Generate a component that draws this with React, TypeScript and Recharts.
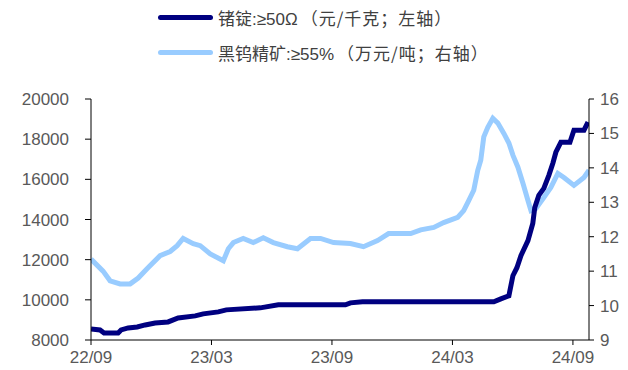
import React from 'react';
import { LineChart, Line, XAxis, YAxis } from 'recharts';

// months since 2022/09
const geMonths = [0, 0.45, 0.65, 1.35, 1.5, 1.85, 2.3, 2.7, 3.19, 3.84, 4.34, 5.19, 5.59, 6.34, 6.74, 8.43, 9.33, 12.67, 12.92, 13.52, 20.06, 20.41, 20.81, 21.01, 21.21, 21.41, 21.76, 22.0, 22.1, 22.3, 22.55, 22.8, 23.0, 23.15, 23.4, 23.85, 24.05, 24.55, 24.75];
const geIngot = [8550, 8500, 8350, 8350, 8500, 8600, 8650, 8750, 8850, 8900, 9100, 9200, 9300, 9400, 9500, 9600, 9750, 9750, 9850, 9900, 9900, 10050, 10200, 11200, 11600, 12200, 12950, 13800, 14600, 15200, 15550, 16200, 16800, 17350, 17850, 17850, 18450, 18450, 18850];

const wMonths = [0, 0.6, 0.95, 1.45, 1.95, 2.35, 2.79, 3.44, 3.94, 4.29, 4.59, 5.09, 5.44, 5.94, 6.59, 6.84, 7.09, 7.58, 8.08, 8.58, 9.08, 9.78, 10.28, 10.93, 11.43, 12.08, 12.92, 13.57, 14.27, 14.82, 15.92, 16.42, 17.07, 17.56, 18.26, 18.56, 18.81, 19.06, 19.26, 19.41, 19.56, 19.76, 20.01, 20.26, 20.56, 20.81, 21.01, 21.26, 21.51, 21.76, 21.91, 22.16, 22.55, 22.9, 23.25, 23.55, 24.05, 24.55, 24.8];
const wConc = [11.35, 11.0, 10.72, 10.63, 10.63, 10.8, 11.07, 11.45, 11.57, 11.74, 11.95, 11.8, 11.74, 11.5, 11.3, 11.65, 11.83, 11.95, 11.83, 11.97, 11.83, 11.71, 11.65, 11.95, 11.95, 11.83, 11.8, 11.71, 11.89, 12.09, 12.09, 12.2, 12.27, 12.41, 12.56, 12.76, 13.05, 13.35, 13.93, 14.22, 14.9, 15.18, 15.44, 15.3, 15.0, 14.72, 14.37, 14.02, 13.55, 13.05, 12.76, 12.82, 13.14, 13.43, 13.84, 13.72, 13.49, 13.72, 13.93];

const xTicks = [0, 6, 12, 18, 24];
const xLabels = ['22/09', '23/03', '23/09', '24/03', '24/09'];
const leftTicks = [8000, 10000, 12000, 14000, 16000, 18000, 20000];
const rightTicks = [9, 10, 11, 12, 13, 14, 15, 16];

const geName = '锗锭:≥50Ω';
const geUnit = '（元/千克；左轴）';
const wName = '黑钨精矿:≥55%';
const wUnit = '（万元/吨；右轴）';

const geData = geMonths.map((m, i) => ({ m, v: geIngot[i] }));
const wData = wMonths.map((m, i) => ({ m, v: wConc[i] }));

const NAVY = '#000080';
const SKY = '#99CCFF';
const FONT = '"Liberation Sans", Arial, sans-serif';
const TICK_COLOR = '#595959';
const tickStyle = { fill: TICK_COLOR, fontSize: 17, fontFamily: FONT };

const legendItems = [
  { name: geName, unit: geUnit, color: NAVY },
  { name: wName, unit: wUnit, color: SKY },
];

export default function App() {
  return (
    <div style={{ position: 'absolute', left: 0, top: 0, width: 628, height: 370, background: '#fff' }}>
      <div
        style={{
          position: 'absolute',
          left: 158,
          top: 0,
          fontFamily: '"Liberation Sans", "Noto Sans CJK SC", sans-serif',
          fontSize: 17,
          color: '#404040',
          whiteSpace: 'nowrap',
        }}
      >
        {legendItems.map((item, i) => (
          <div key={i} style={{ display: 'flex', alignItems: 'center', height: 35 }}>
            <span style={{ display: 'inline-block', width: 55, height: 5, borderRadius: 3, background: item.color, marginRight: 5 }} />
            <span>{item.name}</span>
            <span style={{ fontFamily: '"Noto Sans CJK SC", sans-serif', letterSpacing: 1, marginLeft: 3 } as React.CSSProperties}>
              {item.unit}
            </span>
          </div>
        ))}
      </div>
      <LineChart width={628} height={370} margin={{ top: 99, right: 0, bottom: 0, left: 0 }}>
        <XAxis
          type="number"
          dataKey="m"
          domain={[0, 24.8]}
          ticks={xTicks}
          tickFormatter={(v: number) => xLabels[xTicks.indexOf(v)]}
          height={30}
          stroke="#000"
          tick={tickStyle}
          tickSize={5}
          tickMargin={6}
          allowDataOverflow
        />
        <YAxis
          yAxisId="left"
          domain={[8000, 20000]}
          ticks={leftTicks}
          width={91}
          stroke="#000"
          tick={tickStyle}
          tickSize={6}
          tickMargin={16}
          interval={0}
        />
        <YAxis
          yAxisId="right"
          orientation="right"
          domain={[9, 16]}
          ticks={rightTicks}
          width={39}
          stroke="#000"
          tick={tickStyle}
          tickSize={5}
          tickMargin={6}
          interval={0}
        />
        <Line
          yAxisId="right"
          data={wData}
          dataKey="v"
          name={wName}
          stroke={SKY}
          strokeWidth={5}
          dot={false}
          type="linear"
          isAnimationActive={false}
        />
        <Line
          yAxisId="left"
          data={geData}
          dataKey="v"
          name={geName}
          stroke={NAVY}
          strokeWidth={5}
          dot={false}
          type="linear"
          isAnimationActive={false}
        />
      </LineChart>
    </div>
  );
}
